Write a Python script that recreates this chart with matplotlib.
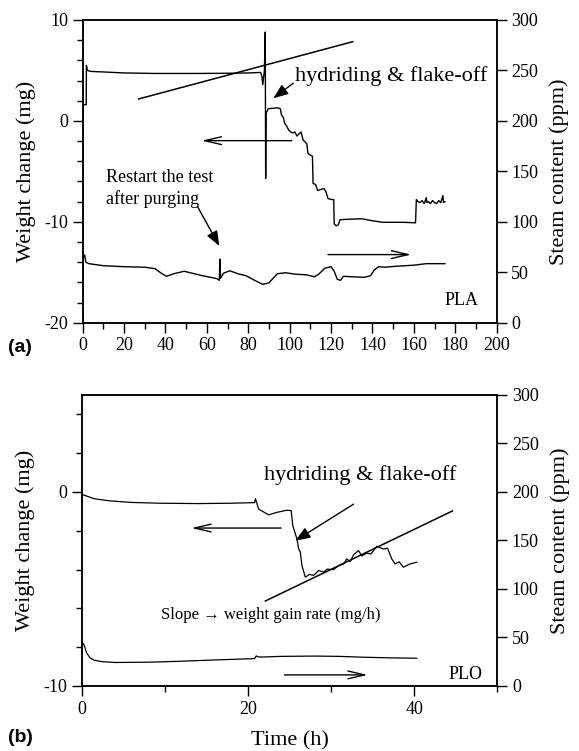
import matplotlib
matplotlib.use("Agg")
import matplotlib.pyplot as plt
from matplotlib.ticker import MultipleLocator

plt.rcParams['font.family'] = ['Liberation Serif', 'DejaVu Serif']
plt.rcParams['axes.linewidth'] = 1.1
plt.rcParams['axes.unicode_minus'] = False

# ---- panel (a) data: PLA ----
wa_t = [0.0, 1.7, 1.8, 2.3, 4, 10, 20, 35, 55, 70, 80, 86, 86.6, 87.0, 87.4, 87.8,
        88.2, 88.4, 88.6, 89.2, 89.6, 92, 94, 95.5, 96.0, 97.0, 97.5, 98.5, 99.5,
        100.5, 101.5, 102.5, 103.5, 104.5, 105.5, 106.5, 107.5, 108.3, 108.8, 110,
        111, 111.3, 112.5, 113.5, 115, 116.5, 117.5, 118.5, 120.5, 121.3, 121.5,
        122.5, 123.5, 124.3, 128, 135, 140, 145, 155, 160.8, 161.2, 162, 163, 164,
        165, 166, 166.3, 167, 168, 169, 170, 171, 172, 173, 174, 174.3, 175]
wa_mg = [1.6, 1.6, 5.5, 5.0, 4.9, 4.85, 4.75, 4.7, 4.7, 4.72, 4.75, 4.8, 4.4, 3.6,
         4.3, 5.0, 8.8, -5.7, 0.8, 1.0, 1.2, 1.25, 1.3, 1.2, 0.6, 0.3, -0.2, -0.5,
         -0.9, -1.1, -1.2, -1.1, -1.5, -1.3, -1.1, -1.9, -2.1, -2.3, -3.2, -3.4,
         -3.5, -6.2, -6.3, -6.9, -6.8, -6.7, -7.0, -7.7, -7.8, -7.8, -10.2, -10.4,
         -10.3, -9.8, -9.75, -9.7, -9.9, -10.05, -10.05, -10.1, -7.8, -8.0, -8.1,
         -7.9, -8.2, -7.6, -8.1, -8.0, -8.2, -7.9, -8.1, -8.2, -7.9, -8.1, -7.4,
         -8.1, -8.0]

sa_t = [0, 0.5, 1.0, 1.5, 3, 10, 20, 30, 35, 38, 40.5, 44, 49, 53, 58, 63, 65, 66,
        66.3, 66.6, 68, 71, 75, 79, 84, 87, 90, 92, 94, 98, 103, 108, 112, 114, 117,
        120, 121.5, 123.0, 124.5, 126, 130, 136, 139, 141, 143, 146, 152, 160, 166,
        175]
sa_ppm = [60, 66, 67, 60, 58.5, 56.5, 55.5, 55, 53.5, 49, 46, 48.5, 51, 49, 46.5,
          44.5, 43.5, 42, 63, 44, 49, 51.5, 48.5, 46.5, 41, 38, 39.5, 44, 48.5, 49.5,
          48, 47.5, 45.5, 48, 54, 55.5, 51, 43, 42, 46, 45.5, 45, 46.5, 52.5, 55.5,
          55, 56, 57, 58.5, 58.5]

slope_a_t = [27, 130.5]
slope_a_mg = [2.17, 7.85]

# ---- panel (b) data: PLO ----
wb_t = [0, 1.5, 3.4, 6, 9.4, 14, 18, 20.8, 20.9, 21.3, 22.5, 23.5, 24.7, 25.2, 25.4,
        25.9, 26.1, 26.3, 26.5, 26.9, 27.4, 27.9, 28.5, 29.1, 29.5, 30.3, 30.9, 31.5,
        31.9, 32.3, 32.7, 33.3, 33.7, 34.3, 34.8, 35.5, 36.3, 36.8, 37.3, 37.7, 38.2,
        38.7, 39.5, 40.3]
wb_mg = [-0.12, -0.35, -0.46, -0.54, -0.58, -0.6, -0.58, -0.55, -0.35, -0.89,
         -1.18, -1.05, -0.94, -0.96, -1.74, -2.43, -2.94, -3.1, -3.8, -4.39, -4.25,
         -4.3, -4.05, -4.13, -3.98, -4.0, -3.8, -3.71, -3.45, -3.6, -3.25, -3.02,
         -3.3, -3.15, -3.2, -2.8, -2.94, -2.9, -3.45, -3.71, -3.6, -3.88, -3.71, -3.62]

sb_t = [0, 0.15, 0.3, 0.6, 1.0, 1.5, 2.5, 4, 8, 12, 16, 20.8, 21.0, 21.2, 21.6, 24,
        28, 31, 34, 37, 40.3]
sb_ppm = [38, 44, 42, 34, 29, 26.5, 25, 24.2, 24.5, 25.5, 26.8, 28.2, 31, 30, 29.8,
          30.5, 30.8, 30.5, 29.6, 29, 28.6]

slope_b_t = [22.1, 44.6]
slope_b_mg = [-5.62, -0.98]

TICK = 13
LAB = 16

fig = plt.figure(figsize=(5.79, 7.51), dpi=100)


def style(ax, tw):
    ax.tick_params(axis='both', which='both', direction='out', top=False,
                   right=False, labelsize=TICK, width=1)
    ax.tick_params(which='major', length=7)
    ax.tick_params(which='minor', length=4)
    tw.tick_params(axis='y', direction='out', labelsize=TICK, length=7, width=1)
    tw.set_ylim(0, 300)
    tw.set_yticks(range(0, 301, 50))
    ax.set_ylabel('Weight change (mg)', fontsize=LAB, labelpad=6)
    tw.set_ylabel('Steam content (ppm)', fontsize=LAB, labelpad=8)


def open_arrow(ax, tail, head):
    ax.annotate('', xy=head, xytext=tail,
                arrowprops=dict(arrowstyle='->,head_length=1.2,head_width=0.28',
                                lw=1.0, color='black', shrinkA=0, shrinkB=0,
                                mutation_scale=10))


def solid_arrow(ax, tail, head):
    ax.annotate('', xy=head, xytext=tail,
                arrowprops=dict(arrowstyle='-|>,head_length=0.9,head_width=0.35',
                                lw=1.0, color='black', shrinkA=0, shrinkB=0,
                                mutation_scale=10))


# ---- (a) ----
ax1 = fig.add_axes([0.1428, 0.5703, 0.7150, 0.4031])
tw1 = ax1.twinx()
ax1.plot(wa_t, wa_mg, color='black', lw=1.0)
tw1.plot(sa_t, sa_ppm, color='black', lw=1.0)
ax1.plot(slope_a_t, slope_a_mg, color='black', lw=1.1)
ax1.set_xlim(0, 200)
ax1.set_ylim(-20, 10)
ax1.set_xticks(range(0, 201, 20))
ax1.xaxis.set_minor_locator(MultipleLocator(10))
ax1.set_yticks([-20, -10, 0, 10])
ax1.yaxis.set_minor_locator(MultipleLocator(2))
style(ax1, tw1)

ax1.text(102.5, 4.4, 'hydriding & flake-off', fontsize=LAB, va='center', ha='left')
solid_arrow(ax1, (101.7, 3.73), (92.1, 2.24))
open_arrow(ax1, (101, -1.96), (57.5, -1.96))
open_arrow(ax1, (118.5, -13.25), (158.7, -13.25))
ax1.text(11.3, -6.7, 'Restart the test\nafter purging', fontsize=13, va='center',
         ha='left', linespacing=1.25)
solid_arrow(ax1, (55.5, -8.5), (66.0, -12.4))
ax1.text(191.2, -17.75, 'PLA', fontsize=13, va='center', ha='right')
fig.text(0.014, 1 - 348 / 751, '(a)', fontsize=14, fontweight='bold',
         family='Liberation Sans', va='center', ha='left')

# ---- (b) ----
ax2 = fig.add_axes([0.1411, 0.0866, 0.7178, 0.3875])
tw2 = ax2.twinx()
ax2.plot(wb_t, wb_mg, color='black', lw=0.9)
tw2.plot(sb_t, sb_ppm, color='black', lw=0.9)
ax2.plot(slope_b_t, slope_b_mg, color='black', lw=1.1)
ax2.set_xlim(0, 50)
ax2.set_ylim(-10, 5)
ax2.set_xticks([0, 20, 40])
ax2.xaxis.set_minor_locator(MultipleLocator(10))
ax2.set_yticks([-10, 0])
ax2.yaxis.set_minor_locator(MultipleLocator(2))
style(ax2, tw2)
ax2.set_xlabel('Time (h)', fontsize=LAB, labelpad=10)

ax2.text(21.9, 0.85, 'hydriding & flake-off', fontsize=LAB, va='center', ha='left')
solid_arrow(ax2, (32.7, -0.63), (25.7, -2.51))
open_arrow(ax2, (24.0, -1.86), (13.2, -1.86))
open_arrow(ax2, (24.4, -9.43), (34.4, -9.43))
ax2.text(9.6, -6.36, 'Slope \u2192 weight gain rate (mg/h)', fontsize=12,
         va='center', ha='left')
ax2.text(48.2, -9.43, 'PLO', fontsize=13, va='center', ha='right')
fig.text(0.014, 1 - 737 / 751, '(b)', fontsize=14, fontweight='bold',
         family='Liberation Sans', va='center', ha='left')

fig.savefig('out.png', dpi=100)
